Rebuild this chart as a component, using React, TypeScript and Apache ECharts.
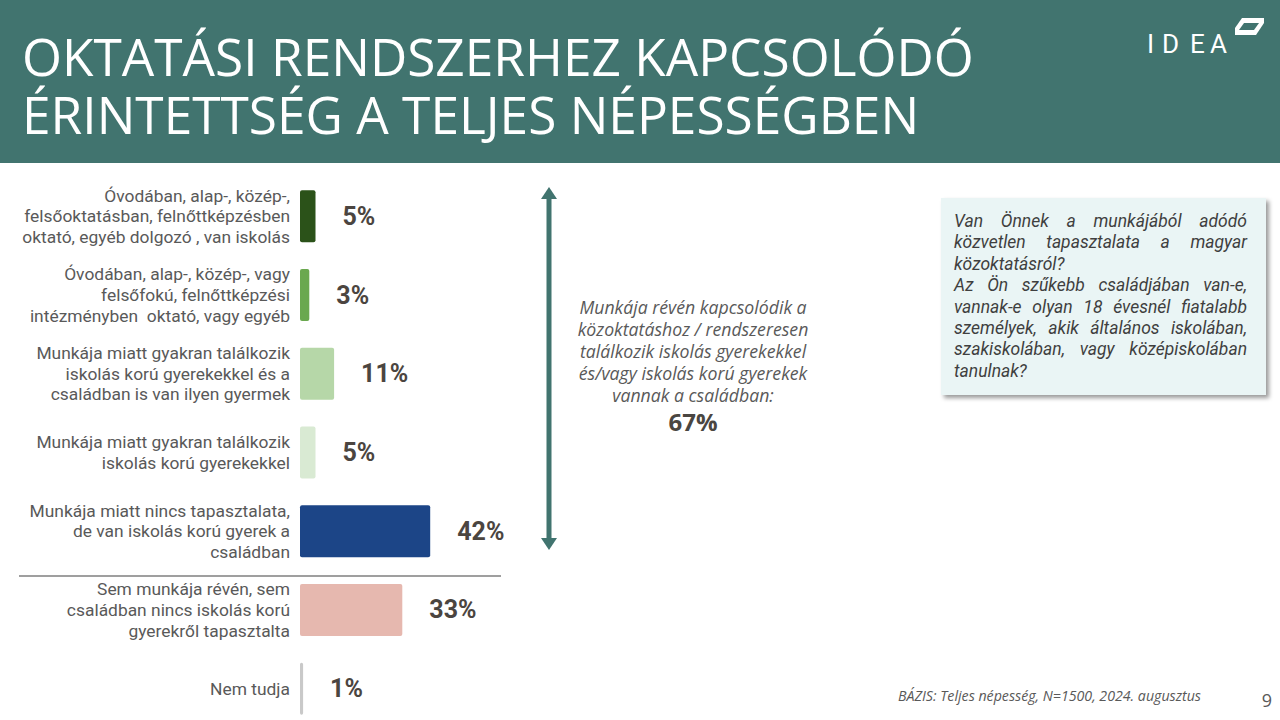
import React, { useEffect, useRef } from "react";
import * as echarts from "echarts";

const categories = [
  "Óvodában, alap-, közép-,\nfelsőoktatásban, felnőttképzésben\noktató, egyéb dolgozó , van iskolás",
  "Óvodában, alap-, közép-, vagy\nfelsőfokú, felnőttképzési\nintézményben  oktató, vagy egyéb",
  "Munkája miatt gyakran találkozik\niskolás korú gyerekekkel és a\ncsaládban is van ilyen gyermek",
  "Munkája miatt gyakran találkozik\niskolás korú gyerekekkel",
  "Munkája miatt nincs tapasztalata,\nde van iskolás korú gyerek a\ncsaládban",
  "Sem munkája révén, sem\ncsaládban nincs iskolás korú\ngyerekről tapasztalta",
  "Nem tudja",
];
const values = [5, 3, 11, 5, 42, 33, 1];
const barColors = ["#2b5219", "#6aa84f", "#b6d7a8", "#d9ead3", "#1c4587", "#e6b8af", "#c9c9c9"];

const titleLines = ["OKTATÁSI RENDSZERHEZ KAPCSOLÓDÓ", "ÉRINTETTSÉG A TELJES NÉPESSÉGBEN"];
const middleLines = [
  "Munkája révén kapcsolódik a",
  "közoktatáshoz / rendszeresen",
  "találkozik iskolás gyerekekkel",
  "és/vagy iskolás korú gyerekek",
  "vannak a családban:",
];
const middleValue = "67%";
const questionLines = [
  "Van Önnek a munkájából adódó",
  "közvetlen tapasztalata a magyar",
  "közoktatásról?",
  "Az Ön szűkebb családjában van-e,",
  "vannak-e olyan 18 évesnél fiatalabb",
  "személyek, akik általános iskolában,",
  "szakiskolában, vagy középiskolában",
  "tanulnak?",
];
const questionJustify = [true, true, false, true, true, true, true, false];
const footnote = "BÁZIS: Teljes népesség, N=1500, 2024. augusztus";
const pageNumber = "9";
const logoLetters = ["I", "D", "E", "A"];

const TEAL = "#41746f";

function justified(lines: string[], just: boolean[], x0: number, x1: number, y0: number, lh: number, fontSize: number, color: string) {
  const font = `italic ${fontSize}px Roboto`;
  const cv = document.createElement("canvas");
  const ctx = cv.getContext("2d")!;
  ctx.font = font;
  const out: any[] = [];
  lines.forEach((line, i) => {
    const y = y0 + i * lh;
    if (!just[i]) {
      out.push({ type: "text", x: x0, y, style: { text: line, font, fill: color, verticalAlign: "middle", align: "left" } });
      return;
    }
    const words = line.split(" ");
    const widths = words.map((w) => ctx.measureText(w).width);
    const total = widths.reduce((a, b) => a + b, 0);
    const gap = (x1 - x0 - total) / Math.max(1, words.length - 1);
    let x = x0;
    words.forEach((w, k) => {
      out.push({ type: "text", x, y, style: { text: w, font, fill: color, verticalAlign: "middle", align: "left" } });
      x += widths[k] + gap;
    });
  });
  return out;
}

export default function App() {
  const ref = useRef<HTMLDivElement>(null);
  useEffect(() => {
    const chart = echarts.init(ref.current!, null, { renderer: "svg" });
    const logoX = [1147, 1162, 1190, 1210];
    const graphics: any[] = [
      { type: "rect", shape: { x: 0, y: 0, width: 1280, height: 163 }, style: { fill: TEAL }, z: 0 },
      ...titleLines.map((t, i) => ({
        type: "text", x: 22, y: 56 + i * 58,
        style: { text: t, font: "51.4px 'Open Sans'", fill: "#ffffff", verticalAlign: "middle" },
      })),
      // IDEA logo
      ...logoLetters.map((c, i) => ({
        type: "text", x: logoX[i], y: 44,
        style: { text: c, font: "26px Roboto", fill: "#ffffff", verticalAlign: "middle" },
      })),
      {
        type: "polygon",
        shape: { points: [[1242, 18], [1264, 18], [1264, 23], [1256, 35], [1235, 35], [1235, 28]] },
        style: { fill: "#ffffff" },
      },
      {
        type: "polygon",
        shape: { points: [[1244, 23], [1259, 23], [1254, 30], [1239, 30]] },
        style: { fill: TEAL },
      },
      // separator
      { type: "line", shape: { x1: 19, y1: 576, x2: 501, y2: 576 }, style: { stroke: "#7f7f7f", lineWidth: 1.5 } },
      // arrow
      { type: "line", shape: { x1: 549, y1: 195, x2: 549, y2: 541 }, style: { stroke: TEAL, lineWidth: 5 } },
      { type: "polygon", shape: { points: [[549, 187], [557, 199], [541, 199]] }, style: { fill: TEAL } },
      { type: "polygon", shape: { points: [[549, 550], [557, 538], [541, 538]] }, style: { fill: TEAL } },
      {
        type: "text", x: 693, y: 351,
        style: { text: middleLines.join("\n"), font: "italic 17.7px 'Open Sans'", lineHeight: 22, fill: "#595959", align: "center", verticalAlign: "middle" },
      },
      {
        type: "text", x: 693, y: 421,
        style: { text: middleValue, font: "bold 24px 'Open Sans'", fill: "#4a4641", align: "center", verticalAlign: "middle" },
      },
      // question box
      {
        type: "rect", shape: { x: 941, y: 198, width: 325, height: 197 },
        style: { fill: "#eaf5f5", shadowBlur: 4, shadowOffsetX: 3, shadowOffsetY: 3, shadowColor: "rgba(0,0,0,0.4)" },
      },
      ...justified(questionLines, questionJustify, 954, 1247, 221, 21.4, 17.5, "#3f3f3f"),
      {
        type: "text", x: 898, y: 695,
        style: { text: footnote, font: "italic 14.2px 'Open Sans'", fill: "#595959", verticalAlign: "middle" },
      },
      {
        type: "text", x: 1272, y: 700,
        style: { text: pageNumber, font: "18px 'Open Sans'", fill: "#595959", align: "right", verticalAlign: "middle" },
      },
    ];
    chart.setOption({
      animation: false,
      backgroundColor: "#ffffff",
      grid: { left: 300, top: 177, width: 310, height: 551 },
      xAxis: { type: "value", min: 0, max: 100, show: false },
      yAxis: {
        type: "category",
        inverse: true,
        data: categories,
        axisLine: { show: false },
        axisTick: { show: false },
        axisLabel: {
          margin: 10,
          fontFamily: "Roboto",
          fontSize: 17.4,
          lineHeight: 20.7,
          color: "#595959",
          align: "right",
        },
      },
      series: [
        {
          type: "bar",
          data: values.map((v, i) => ({ value: v, itemStyle: { color: barColors[i] } })),
          barWidth: 52,
          itemStyle: { borderRadius: 2 },
          label: {
            show: true,
            position: "right",
            distance: 27,
            formatter: "{c}%",
            fontFamily: "Roboto",
            fontWeight: "bold",
            fontSize: 25,
            color: "#4b4540",
          },
        },
      ],
      graphic: graphics,
    });
    return () => chart.dispose();
  }, []);
  return (
    <div style={{ position: "fixed", left: 0, top: 0, width: 1280, height: 720, overflow: "hidden" }}>
      <div ref={ref} style={{ width: 1280, height: 760 }} />
    </div>
  );
}
